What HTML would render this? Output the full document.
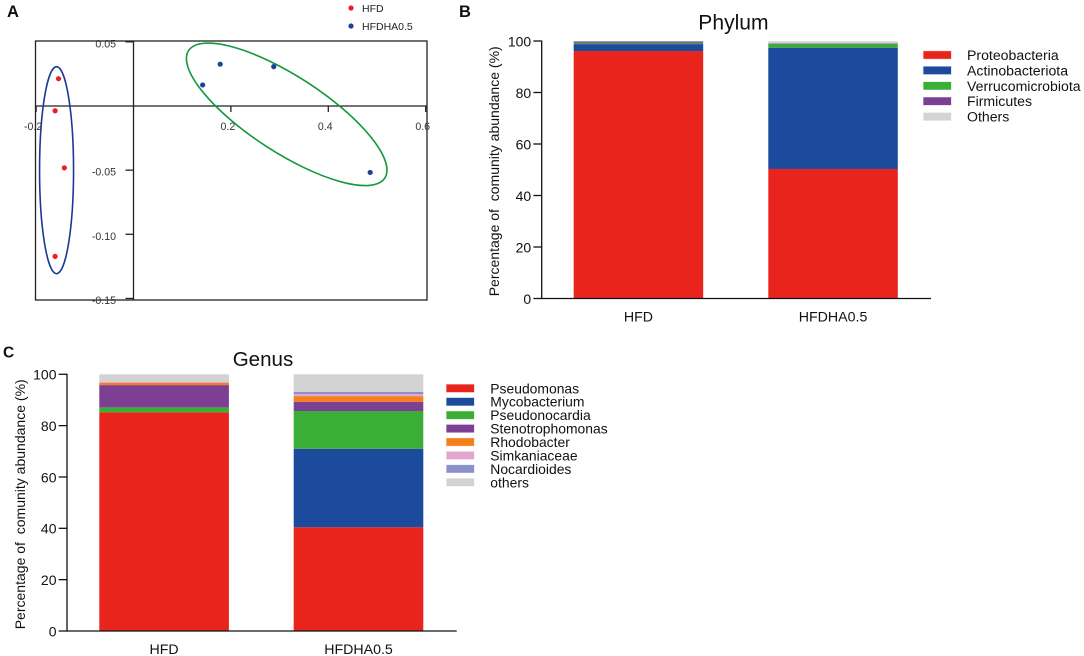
<!DOCTYPE html>
<html>
<head>
<meta charset="utf-8">
<style>
html,body{margin:0;padding:0;background:#fff}
svg{display:block}
text{font-family:"Liberation Sans",sans-serif;white-space:pre}
</style>
</head>
<body>
<svg id="fig" width="1084" height="656" viewBox="0 0 1084 656" xmlns="http://www.w3.org/2000/svg">
  <rect width="1084" height="656" fill="#fff"/>
  <text x="7" y="17" font-size="16.5" font-weight="bold" fill="#111">A</text>
  <text x="459" y="17" font-size="16.5" font-weight="bold" fill="#111">B</text>
  <text x="3" y="357.5" font-size="15.5" font-weight="bold" fill="#111">C</text>

  <g id="panelA"></g>

  <g id="panelB">
    <text x="698.3" y="29.3" font-size="21" textLength="70.3" lengthAdjust="spacingAndGlyphs" fill="#111">Phylum</text>
    <text transform="translate(499,296.3) rotate(-90)" font-size="14" textLength="250" lengthAdjust="spacingAndGlyphs" fill="#111">Percentage of  comunity abundance (%)</text>
  </g>

  <g id="panelC">
    <text x="232.7" y="366" font-size="20.6" textLength="60.6" lengthAdjust="spacingAndGlyphs" fill="#111">Genus</text>
    <text transform="translate(25,629.3) rotate(-90)" font-size="14" textLength="250" lengthAdjust="spacingAndGlyphs" fill="#111">Percentage of  comunity abundance (%)</text>
  </g>
</svg>

<script>
// ---------- Panel A data ----------
const pcoaGroups = ['HFD', 'HFDHA0.5'];
const hfdX = [-0.154, -0.161, -0.142, -0.161];
const hfdY = [0.0213, -0.0037, -0.0482, -0.1172];
const hfdhaX = [0.178, 0.142, 0.288, 0.486];
const hfdhaY = [0.0326, 0.0164, 0.0307, -0.0518];
const pcoaXTicks = [-0.2, 0.2, 0.4, 0.6];
const pcoaXTickLabels = ['-0.2', '0.2', '0.4', '0.6'];
const pcoaYTicks = [0.05, -0.05, -0.10, -0.15];
const pcoaYTickLabels = ['0.05', '-0.05', '-0.10', '-0.15'];

// ---------- Panel B data ----------
const barCategories = ['HFD', 'HFDHA0.5'];
const percentTicks = [0, 20, 40, 60, 80, 100];
const phylumNames = ['Proteobacteria', 'Actinobacteriota', 'Verrucomicrobiota', 'Firmicutes', 'Others'];
const phylumHFD = [96.1, 2.7, 0.5, 0.5, 0.2];
const phylumHFDHA = [50.3, 47.1, 1.5, 0.2, 0.8];

// ---------- Panel C data ----------
const genusNames = ['Pseudomonas', 'Mycobacterium', 'Pseudonocardia', 'Stenotrophomonas', 'Rhodobacter', 'Simkaniaceae', 'Nocardioides', 'others'];
const genusHFD = [85.2, 0, 1.9, 8.7, 0.9, 0.3, 0.1, 2.9];
const genusHFDHA = [40.4, 30.6, 14.7, 3.6, 2.2, 0.8, 0.8, 6.9];

// ---------- Helpers ----------
const NS = 'http://www.w3.org/2000/svg';
function mk(parent, tag, attrs) {
  const el = document.createElementNS(NS, tag);
  for (const k in attrs) el.setAttribute(k, attrs[k]);
  parent.appendChild(el);
  return el;
}
function label(parent, str, x, y, anchor, size, fill) {
  const el = mk(parent, 'text', {
    x: x, y: y,
    'text-anchor': anchor, 'font-size': size, fill: fill
  });
  el.textContent = str;
  return el;
}
function slug(s) {
  return String(s).toLowerCase().replace(/[^a-z0-9]+/g, '-');
}

// ---------- Panel A ----------
(function () {
  const g = document.getElementById('panelA');
  const px = v => 133.5 + v * 487;
  const py = v => 106 - v * 1283;
  const ink = '#222';

  const frame = mk(g, 'rect', { x: 35.5, y: 41, width: 391.5, height: 259, fill: 'none', stroke: ink, 'stroke-width': 1.3 });
  
  

  const xAxis = mk(g, 'line', { x1: px(-0.2), x2: 427, y1: py(0), y2: py(0), stroke: ink, 'stroke-width': 1.3 });
  
  

  const yAxis = mk(g, 'line', { x1: px(0), x2: px(0), y1: 41, y2: 300, stroke: ink, 'stroke-width': 1.3 });
  
  

  pcoaXTicks.forEach((v, i) => {
    const t = mk(g, 'line', { x1: px(v), x2: px(v), y1: py(0), y2: py(0) + 6, stroke: ink, 'stroke-width': 1.3 });
    
    
    const l = label(g, pcoaXTickLabels[i], px(v) - 3, 130, 'middle', 10.6, '#333');
    
    
  });

  pcoaYTicks.forEach((v, i) => {
    const t = mk(g, 'line', { x1: px(0) - 8, x2: px(0), y1: py(v), y2: py(v), stroke: ink, 'stroke-width': 1.3 });
    
    
    const l = label(g, pcoaYTickLabels[i], 116, py(v) + 5.5, 'end', 10.6, '#333');
    
    
  });

  const hfdEllipse = mk(g, 'ellipse', { cx: px(-0.158), cy: py(-0.05), rx: 17, ry: 103.5, fill: 'none', stroke: '#1a3a94', 'stroke-width': 1.6 });
  
  

  const haCx = px(0.3146), haCy = py(-0.0065);
  const haEllipse = mk(g, 'ellipse', { cx: haCx, cy: haCy, rx: 117, ry: 38, transform: 'rotate(33 ' + haCx + ' ' + haCy + ')', fill: 'none', stroke: '#12993a', 'stroke-width': 1.6 });
  
  

  hfdX.forEach((v, i) => {
    const p = mk(g, 'circle', { cx: px(v), cy: py(hfdY[i]), r: 2.6, fill: '#ee1c25' });
    
    
  });
  hfdhaX.forEach((v, i) => {
    const p = mk(g, 'circle', { cx: px(v), cy: py(hfdhaY[i]), r: 2.6, fill: '#1c439c' });
    
    
  });

  const legendColors = ['#ee1c25', '#1c439c'];
  pcoaGroups.forEach((name, i) => {
    const y = 8 + i * 18;
    const d = mk(g, 'circle', { cx: 351, cy: y, r: 2.6, fill: legendColors[i] });
    
    
    const l = label(g, name, 362, y + 3.8, 'start', 10.5, '#222');
    
    
  });
})();

// ---------- Stacked bars ----------
function stacked(cfg) {
  const g = cfg.g;
  const py = v => cfg.y0 - v * cfg.k;
  const ink = '#111';

  const yAxis = mk(g, 'line', { x1: cfg.axisX, x2: cfg.axisX, y1: py(100) - 0.5, y2: py(0) + 0.6, stroke: ink, 'stroke-width': 1.3 });
  
  

  percentTicks.forEach(v => {
    const t = mk(g, 'line', { x1: cfg.axisX - 8.3, x2: cfg.axisX, y1: py(v), y2: py(v), stroke: ink, 'stroke-width': 1.3 });
    
    
    const l = label(g, String(v), cfg.axisX - 10.5, py(v) + 5.3, 'end', 14, ink);
    
    
  });

  cfg.series.forEach((vals, c) => {
    let base = 0;
    vals.forEach((v, s) => {
      if (v <= 0) return;
      const r = mk(g, 'rect', { x: cfg.barX[c], y: py(base + v), width: cfg.barW, height: v * cfg.k, fill: cfg.colors[s] });
      
      
      base += v;
    });
    const l = label(g, barCategories[c], cfg.barX[c] + cfg.barW / 2, cfg.catY, 'middle', 14.2, ink);
    
    
  });

  const xAxis = mk(g, 'line', { x1: cfg.axisX, x2: cfg.axisEnd, y1: py(0), y2: py(0), stroke: ink, 'stroke-width': 1.3 });
  
  

  cfg.names.forEach((name, i) => {
    const cy = cfg.legY + i * cfg.legStep;
    const sw = mk(g, 'rect', { x: cfg.legX, y: cy - 3.8, width: 27.5, height: 7.6, fill: cfg.colors[i], stroke: cfg.colors[i], 'stroke-opacity': 0.35, 'stroke-width': 0.8 });
    
    
    const l = label(g, name, cfg.legTextX, cy + 5, 'start', cfg.legFont, ink);
    
    
  });
}

stacked({
  g: document.getElementById('panelB'),
  y0: 298.5, k: 2.575, axisX: 541.7, axisEnd: 931,
  barX: [573.7, 768.3], barW: 129.5, catY: 321.7,
  names: phylumNames, series: [phylumHFD, phylumHFDHA],
  colors: ['#e9241d', '#1c4a9c', '#3aae35', '#7d3f93', '#d3d3d3'],
  legX: 923.5, legTextX: 967, legY: 55, legStep: 15.4, legFont: 14.1
});

stacked({
  g: document.getElementById('panelC'),
  y0: 631, k: 2.567, axisX: 67, axisEnd: 456.7,
  barX: [99.3, 293.7], barW: 129.6, catY: 654,
  names: genusNames, series: [genusHFD, genusHFDHA],
  colors: ['#e9241d', '#1c4a9c', '#3aae35', '#7d3f93', '#f57f1f', '#e3a6cf', '#8a90c8', '#d3d3d3'],
  legX: 446.5, legTextX: 490.3, legY: 388.3, legStep: 13.43, legFont: 13.9
});
</script>
</body>
</html>
